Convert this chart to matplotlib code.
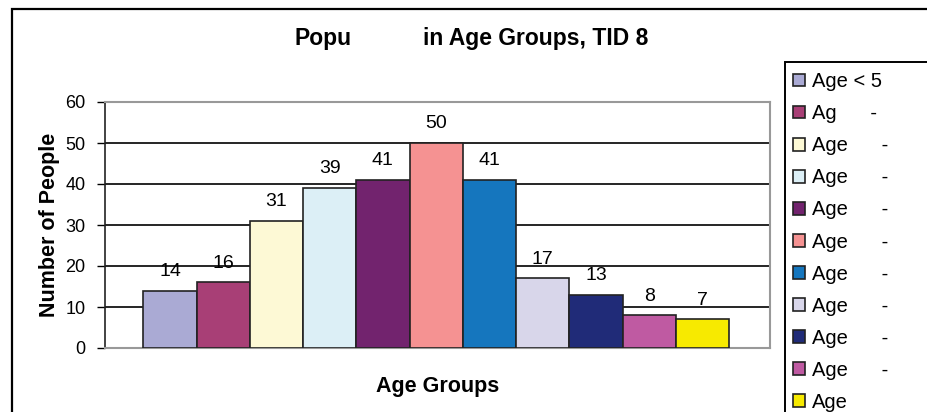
import matplotlib
matplotlib.use("Agg")
import matplotlib.pyplot as plt
from matplotlib.patches import Rectangle

plt.rcParams["font.family"] = ["Liberation Sans", "DejaVu Sans"]

# data
groups = ["Age < 5", "Ag      -", "Age      -", "Age      -", "Age      -",
          "Age      -", "Age      -", "Age      -", "Age      -", "Age      -",
          "Age"]
counts = [14, 16, 31, 39, 41, 50, 41, 17, 13, 8, 7]
colors = ["#AAAAD4", "#A83F76", "#FDF9D5", "#DCEFF6", "#72236E", "#F59292",
          "#1576BE", "#D8D6EA", "#202B78", "#BF5AA2", "#F7EA00"]
yticks = [0, 10, 20, 30, 40, 50, 60]

W, H = 928, 412
fig = plt.figure(figsize=(W / 100, H / 100), dpi=100)

# outer chart frame (runs off the right and bottom edges)
fig.patches.append(Rectangle((12 / W, -0.1), 1.2, 1 - 9 / H + 0.1,
                             transform=fig.transFigure, fill=False,
                             edgecolor="black", linewidth=1.6))
# legend frame, also cut by the image edge
fig.patches.append(Rectangle((785 / W, -0.1), 1.0, 1 - 62 / H + 0.1,
                             transform=fig.transFigure, fill=False,
                             edgecolor="black", linewidth=1.4, zorder=5))

ax = fig.add_axes([105 / W, 1 - 348 / H, 665 / W, 246 / H])
xs = list(range(len(counts)))
bars = ax.bar(xs, counts, width=1.0, color=colors, edgecolor="#222222",
              linewidth=1.2, zorder=3)
for x, v in zip(xs, counts):
    ax.text(x, v + 2.6, str(v), ha="center", va="bottom", fontsize=14)

ax.set_xlim(-0.5 - 0.72, len(counts) - 0.5 + 0.77)
ax.set_ylim(0, 60)
ax.set_yticks(yticks)
ax.set_xticks([])
ax.tick_params(axis="y", labelsize=13, length=6, width=1, pad=8)
for y in yticks[1:-1]:
    ax.axhline(y, color="black", linewidth=1.2, zorder=1)
for side in ["top", "right", "bottom"]:
    ax.spines[side].set_color("#999999")
    ax.spines[side].set_linewidth(1.5)
ax.spines["left"].set_color("#222222")
ax.spines["left"].set_linewidth(1.2)

ax.set_ylabel("Number of People", fontsize=15.5, fontweight="bold", labelpad=4)
ax.set_xlabel("Age Groups", fontsize=15.5, fontweight="bold", labelpad=20)

fig.text(295 / W, 1 - 38 / H, "Popu", fontsize=16.5, fontweight="bold",
         ha="left", va="center")
fig.text(423 / W, 1 - 38 / H, "in Age Groups, TID 8", fontsize=16.5,
         fontweight="bold", ha="left", va="center")

leg = fig.legend(bars, groups, loc="upper left",
                 bbox_to_anchor=(783 / W, 1 - 62 / H), fontsize=14.5,
                 handlelength=0.6, handleheight=0.6, handletextpad=0.35,
                 labelspacing=0.65, borderpad=0.5, borderaxespad=0,
                 frameon=False)

fig.savefig("out.png", dpi=100)
